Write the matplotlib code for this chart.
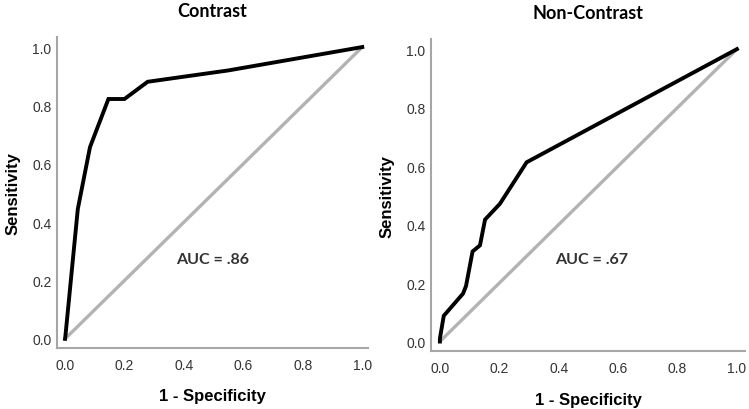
import matplotlib.pyplot as plt

# ROC curve points
contrast_fpr = [0.0, 0.002, 0.043, 0.084, 0.146, 0.200, 0.278, 0.550, 1.0]
contrast_tpr = [0.0, 0.017, 0.445, 0.657, 0.822, 0.822, 0.881, 0.920, 1.0]

noncontrast_fpr = [0.0, 0.0, 0.013, 0.078, 0.088, 0.110, 0.135, 0.152, 0.202, 0.292, 1.0]
noncontrast_tpr = [0.0, 0.010, 0.088, 0.164, 0.190, 0.308, 0.329, 0.417, 0.471, 0.613, 1.0]

titles = ["Contrast", "Non-Contrast"]
auc_labels = ["AUC = .86", "AUC = .67"]
ticks = [0.0, 0.2, 0.4, 0.6, 0.8, 1.0]
tick_labels = ["0.0", "0.2", "0.4", "0.6", "0.8", "1.0"]

fig = plt.figure(figsize=(7.49, 4.10), dpi=100)
ax1 = fig.add_axes([0.0761, 0.149, 0.4155, 0.758])
ax2 = fig.add_axes([0.5754, 0.141, 0.4192, 0.761])

panels = [
    (ax1, contrast_fpr, contrast_tpr, (-0.027, 1.02), (-0.031, 1.034), (0.497, 0.274)),
    (ax2, noncontrast_fpr, noncontrast_tpr, (-0.03, 1.027), (-0.033, 1.034), (0.511, 0.283)),
]

for i, (ax, fpr, tpr, xl, yl, auc_pos) in enumerate(panels):
    # reference diagonal
    ax.plot([0, 1], [0, 1], color="#b3b3b3", lw=2.4, solid_capstyle="round")
    ax.plot(fpr, tpr, color="black", lw=2.8, solid_joinstyle="miter")
    ax.set_xlim(*xl)
    ax.set_ylim(*yl)
    ax.set_xticks(ticks)
    ax.set_xticklabels(tick_labels)
    ax.set_yticks(ticks)
    ax.set_yticklabels(tick_labels)
    ax.tick_params(length=0, labelsize=10, labelcolor="#333333",
                   pad=7)
    ax.tick_params(axis="y", pad=4)
    for lab in ax.get_xticklabels() + ax.get_yticklabels():
        lab.set_family("Liberation Sans")
    for s in ["top", "right"]:
        ax.spines[s].set_visible(False)
    for s in ["left", "bottom"]:
        ax.spines[s].set_color("#a6a6a6")
        ax.spines[s].set_linewidth(1.5)
    ax.set_xlabel("1 - Specificity", fontsize=12, fontweight="bold",
                  family="Liberation Sans", labelpad=12)
    ax.set_ylabel("Sensitivity", fontsize=12, fontweight="bold",
                  family="Liberation Sans", labelpad=8)
    ax.set_title(titles[i], fontsize=13, fontweight="bold", family="Lato", pad=15)
    ax.text(auc_pos[0], auc_pos[1], auc_labels[i], fontsize=11.5, fontweight="bold",
            family="Lato", color="#333333", ha="center", va="center")

fig.savefig("out.png", dpi=100)
